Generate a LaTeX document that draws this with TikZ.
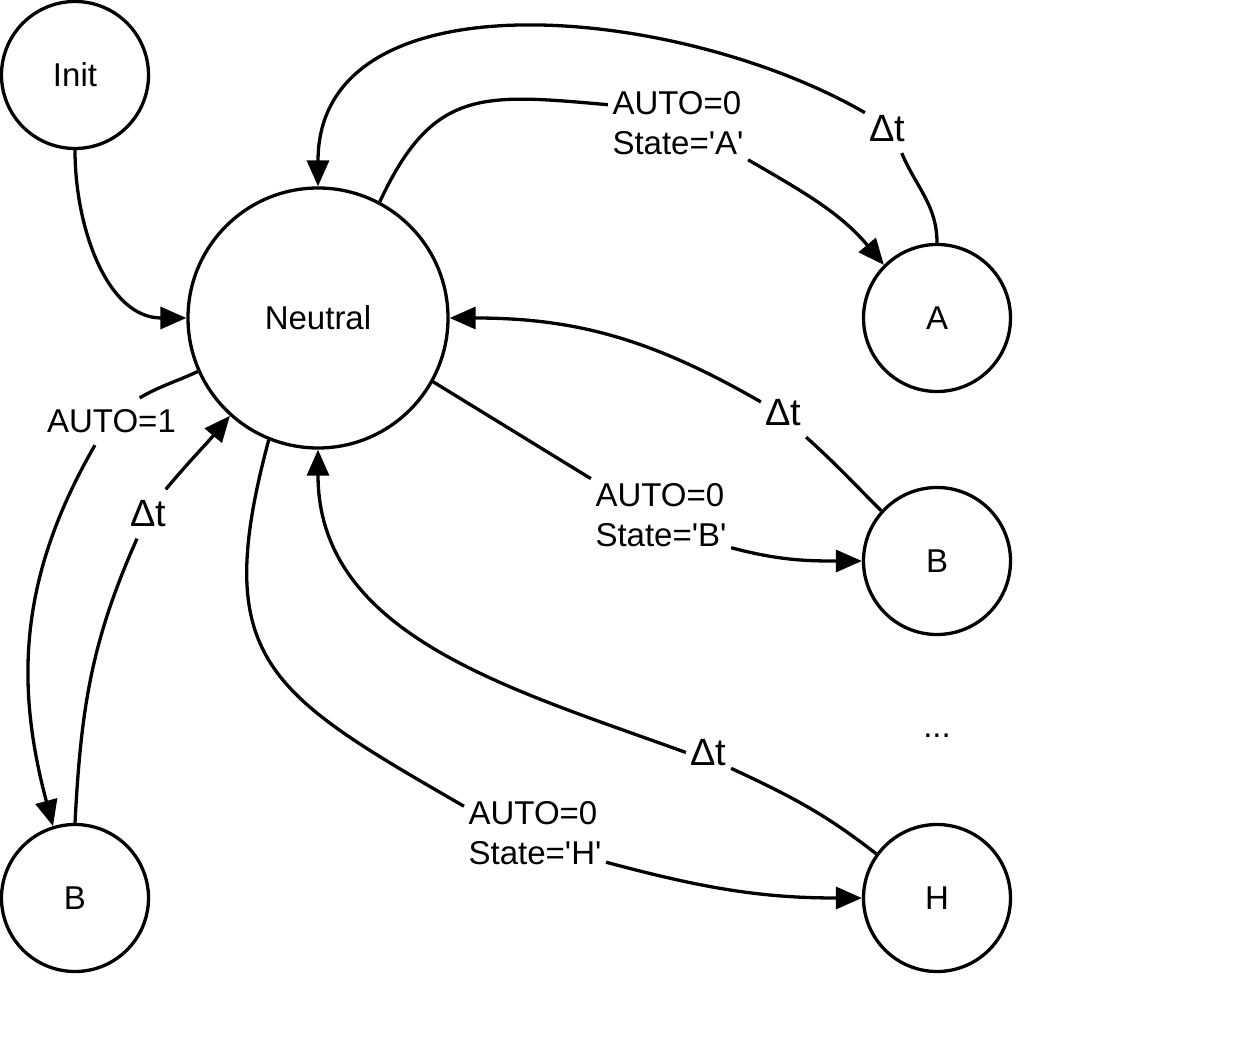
\documentclass[tikz,border=0pt]{standalone}
\usepackage{fontspec}
\setmainfont{Liberation Sans}
\usetikzlibrary{arrows.meta}

\begin{document}
\begin{tikzpicture}[x=1pt,y=1pt,line width=3.3pt,
  >={Triangle[length=26pt,width=22pt]},
  state/.style={draw,circle,minimum size=147pt,inner sep=0pt,font=\fontsize{33}{40}\selectfont},
  cond/.style={align=left,inner sep=3pt,font=\fontsize{33}{40}\selectfont},
  delay/.style={inner sep=3pt,minimum height=46pt,font=\fontsize{38}{46}\selectfont}]
\useasboundingbox (0,0) rectangle (1238,1050);
\node [state] (init) at (75,975) {Init};
\node [state,minimum size=260pt] (neutral) at (318,732) {Neutral};
\node [state] (a) at (937,732) {A};
\node [state] (b) at (937,489) {B};
\node [state] (h) at (937,152) {H};
\node [state] (b2) at (75,152) {B};
\node [cond] (dots) at (937,314) {...};
\node [cond] (autoA) at (678,926.5) {AUTO=0\\State=\textquotesingle A\textquotesingle};
\node [cond] (autoB) at (661,535) {AUTO=0\\State=\textquotesingle B\textquotesingle};
\node [cond] (autoH) at (535,216.5) {AUTO=0\\State=\textquotesingle H\textquotesingle};
\node [cond,minimum height=44pt] (auto1) at (111.5,628.5) {AUTO=1};
\node [delay] (dtA) at (887.5,921.5) {Δt};
\node [delay] (dtB) at (783.5,637.5) {Δt};
\node [delay] (dtH) at (708.5,297.5) {Δt};
\node [delay] (dtL) at (148.5,536) {Δt};
\draw [->] (init.south) to [out=-90,in=180] (neutral.west);
\draw [->] (neutral.62) to [out=65,in=175,looseness=1.3] (autoA.165)
  (autoA.south east) to [out=-30,in=130] (a.135);
\draw [->] (a.north) to [out=90,in=-67] (dtA.-60)
  (dtA.145) to [out=150,in=90] (neutral.north);
\draw [->] (neutral.-29) -- (autoB.north west)
  (autoB.-25) to [out=-15,in=180] (b.west);
\draw [->] (b.138) to [out=135,in=-42] (dtB.south east)
  (dtB.155) to [out=150,in=0] (neutral.east);
\draw [->] (neutral.248) to [out=-105,in=150,looseness=1.4] (autoH.159)
  (autoH.-22) to [out=-15,in=180] (h.west);
\draw [->] (h.144) to [out=142,in=-25] (dtH.-35)
  (dtH.west) to [out=160,in=-90] (neutral.south);
\draw [->] (neutral.204) to [out=205,in=30] (auto1.40)
  (auto1.-125) to [out=-120,in=105] (b2.107);
\draw [->] (b2.north) to [out=87,in=-114] (dtL.-115)
  (dtL.55) to [out=50,in=-130] (neutral.228);
\end{tikzpicture}
\end{document}
